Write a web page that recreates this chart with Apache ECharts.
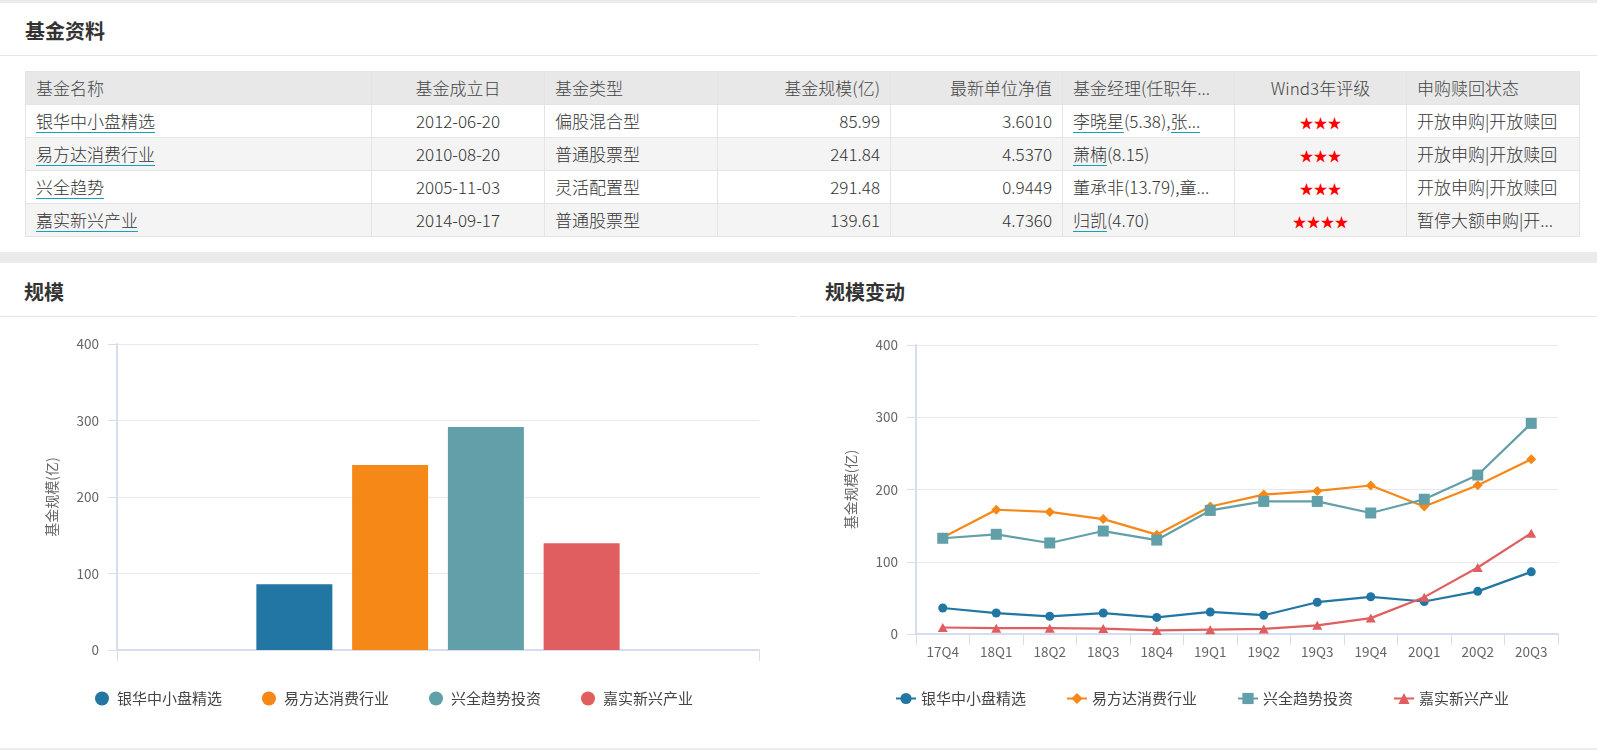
<!DOCTYPE html>
<html>
<head>
<meta charset="utf-8">
<title>基金资料</title>
<script src="https://cdn.jsdelivr.net/npm/echarts@6/dist/echarts.min.js"></script>
<style>
html,body{margin:0;padding:0;width:1597px;height:750px;overflow:hidden;background:#ebebeb;font-family:'Noto Sans CJK SC',sans-serif;color:#333;}
.panel{position:absolute;background:#fff;}
#infoPanel{left:0;top:3px;width:1597px;height:249px;}
#chartPanel{left:0;top:263px;width:1597px;height:485px;}
.ptitle{position:absolute;font-size:20px;font-weight:bold;line-height:24px;color:#333;}
.hline{position:absolute;height:1px;background:#e6e6e6;}
#fundTable{position:absolute;left:25px;top:68px;border-collapse:collapse;table-layout:fixed;width:1554px;font-size:17px;font-weight:300;}
#fundTable th,#fundTable td{height:32px;padding:0 10px;border:1px solid #e4e4e4;white-space:nowrap;overflow:hidden;font-weight:300;line-height:20px;}
#fundTable th{background:#e8e8e8;color:#444;}
#fundTable tr.even td{background:#f4f4f4;}
#fundTable a{color:#333;text-decoration:none;border-bottom:1px solid #17a0bb;display:inline-block;line-height:23px;}
#fundTable .star{color:#f00;font-size:14px;}
.chart{position:absolute;top:53px;width:797px;height:432px;}
</style>
</head>
<body>
<div class="panel" id="infoPanel">
	<div class="ptitle" style="left:25px;top:16px;">基金资料</div>
	<div class="hline" style="left:0;top:52px;width:1597px;"></div>
	<table id="fundTable"></table>
</div>
<div class="panel" id="chartPanel">
	<div class="ptitle" style="left:24px;top:17px;">规模</div>
	<div class="ptitle" style="left:825px;top:17px;">规模变动</div>
	<div class="hline" style="left:0;top:53px;width:797px;"></div>
	<div class="hline" style="left:800px;top:53px;width:797px;"></div>
	<div class="chart" id="scaleChart" style="left:0;"></div>
	<div class="chart" id="trendChart" style="left:800px;"></div>
</div>
<script>
// 表格数据
var tableHeads = ['基金名称', '基金成立日', '基金类型', '基金规模(亿)', '最新单位净值', '基金经理(任职年...', 'Wind3年评级', '申购赎回状态'];
var tableNames = ['银华中小盘精选', '易方达消费行业', '兴全趋势', '嘉实新兴产业'];
var setupDates = ['2012-06-20', '2010-08-20', '2005-11-03', '2014-09-17'];
var fundTypes = ['偏股混合型', '普通股票型', '灵活配置型', '普通股票型'];
var fundScale = [85.99, 241.84, 291.48, 139.61];
var latestNav = ['3.6010', '4.5370', '0.9449', '4.7360'];
var managers = [
	[['李晓星', 1], ['(5.38),', 0], ['张...', 1]],
	[['萧楠', 1], ['(8.15)', 0]],
	[['董承非(13.79),童...', 0]],
	[['归凯', 1], ['(4.70)', 0]]
];
var ratings = [3, 3, 3, 4];
var tradeStatus = ['开放申购|开放赎回', '开放申购|开放赎回', '开放申购|开放赎回', '暂停大额申购|开...'];

// 图表数据
var fundNames = ['银华中小盘精选', '易方达消费行业', '兴全趋势投资', '嘉实新兴产业'];
var quarters = ['17Q4', '18Q1', '18Q2', '18Q3', '18Q4', '19Q1', '19Q2', '19Q3', '19Q4', '20Q1', '20Q2', '20Q3'];
var yhScale = [36, 29, 24.5, 29, 23, 30.5, 26, 44, 51.5, 45, 59, 85.99];
var yfdScale = [133.5, 172, 169, 159, 137.5, 176.5, 193, 198, 205.5, 176.5, 206, 241.84];
var xqScale = [132.5, 138, 126, 142.5, 130, 171, 183.5, 183.5, 167.5, 186.5, 220, 291.48];
var jsScale = [9, 8, 8, 7.5, 5, 6, 7, 12, 22, 51, 92, 139.61];
var yTicks = [0, 100, 200, 300, 400];

var fundColors = ['#2176a3', '#f68818', '#61a0a8', '#e05e5f'];
var lineSymbols = ['circle', 'diamond', 'rect', 'triangle'];
var symbolSizes = [9, 10, 11, [10, 9]];
var aligns = ['left', 'center', 'left', 'right', 'right', 'left', 'center', 'left'];
var colWidths = [346, 173, 173, 173, 172, 172, 172, 173];

function buildTable() {
	var html = '<colgroup>';
	for (var c = 0; c < colWidths.length; c++) html += '<col style="width:' + colWidths[c] + 'px">';
	html += '</colgroup><tr>';
	for (var h = 0; h < tableHeads.length; h++) {
		html += '<th style="text-align:' + aligns[h] + '">' + tableHeads[h] + '</th>';
	}
	html += '</tr>';
	for (var i = 0; i < tableNames.length; i++) {
		var mgr = '';
		for (var m = 0; m < managers[i].length; m++) {
			mgr += managers[i][m][1] ? '<a>' + managers[i][m][0] + '</a>' : managers[i][m][0];
		}
		var cells = [
			'<a>' + tableNames[i] + '</a>',
			setupDates[i],
			fundTypes[i],
			fundScale[i].toFixed(2),
			latestNav[i],
			mgr,
			'<span class="star">' + new Array(ratings[i] + 1).join('★') + '</span>',
			tradeStatus[i]
		];
		html += '<tr class="' + (i % 2 ? 'even' : 'odd') + '">';
		for (var k = 0; k < cells.length; k++) {
			html += '<td style="text-align:' + aligns[k] + '">' + cells[k] + '</td>';
		}
		html += '</tr>';
	}
	document.getElementById('fundTable').innerHTML = html;
}

var axisColor = '#d6ddee';
var splitColor = '#e7e9ef';
var labelColor = '#666';

function yAxisOpt() {
	return {
		type: 'value',
		min: yTicks[0],
		max: yTicks[yTicks.length - 1],
		interval: yTicks[1] - yTicks[0],
		name: '基金规模(亿)',
		nameLocation: 'middle',
		nameGap: 58,
		nameTextStyle: { color: labelColor, fontSize: 14 },
		axisLine: { show: true, lineStyle: { color: axisColor, width: 2 } },
		axisTick: { show: true, length: 9, lineStyle: { color: axisColor } },
		axisLabel: { color: labelColor, fontSize: 13.5, margin: 18 },
		splitLine: { show: true, lineStyle: { color: splitColor, width: 1 } }
	};
}

var scaleChart, trendChart, scaleOption, trendOption;

buildTable();

// 规模
scaleChart = echarts.init(document.getElementById('scaleChart'));
scaleOption = {
	animation: false,
	textStyle: { fontFamily: 'Noto Sans CJK SC' },
	grid: { left: 117, top: 28, width: 642, height: 306 },
	legend: {
		left: 90,
		top: 370,
		icon: 'circle',
		itemWidth: 20,
		itemHeight: 14,
		itemGap: 40,
		textStyle: { color: '#444', fontSize: 15 },
		data: fundNames
	},
	xAxis: {
		type: 'category',
		data: [''],
		axisLine: { show: true, lineStyle: { color: axisColor, width: 2 } },
		axisTick: { show: true, length: 11, alignWithLabel: false, lineStyle: { color: axisColor } },
		axisLabel: { show: false },
		splitLine: { show: false }
	},
	yAxis: yAxisOpt(),
	series: fundNames.map(function (n, i) {
		return {
			name: n,
			type: 'bar',
			barWidth: 76,
			barGap: '26%',
			itemStyle: { color: fundColors[i] },
			data: [fundScale[i]]
		};
	})
};
scaleChart.setOption(scaleOption);

// 规模变动
var trendData = [yhScale, yfdScale, xqScale, jsScale];
trendChart = echarts.init(document.getElementById('trendChart'));
trendOption = {
	animation: false,
	textStyle: { fontFamily: 'Noto Sans CJK SC' },
	grid: { left: 116, top: 29, width: 642, height: 289 },
	legend: {
		left: 90,
		top: 370,
		itemWidth: 20,
		itemHeight: 14,
		itemGap: 40,
		textStyle: { color: '#444', fontSize: 15 },
		data: fundNames
	},
	xAxis: {
		type: 'category',
		boundaryGap: true,
		data: quarters,
		axisLine: { show: true, lineStyle: { color: axisColor, width: 2 } },
		axisTick: { show: true, length: 11, alignWithLabel: false, lineStyle: { color: axisColor } },
		axisLabel: { color: labelColor, fontSize: 13.5, margin: 11, interval: 0 },
		splitLine: { show: false }
	},
	yAxis: yAxisOpt(),
	series: fundNames.map(function (n, i) {
		return {
			name: n,
			type: 'line',
			symbol: lineSymbols[i],
			symbolSize: symbolSizes[i],
			showSymbol: true,
			showAllSymbol: true,
			lineStyle: { width: 2.2, color: fundColors[i] },
			itemStyle: { color: fundColors[i] },
			data: trendData[i]
		};
	})
};
trendChart.setOption(trendOption);
</script>
</body>
</html>
